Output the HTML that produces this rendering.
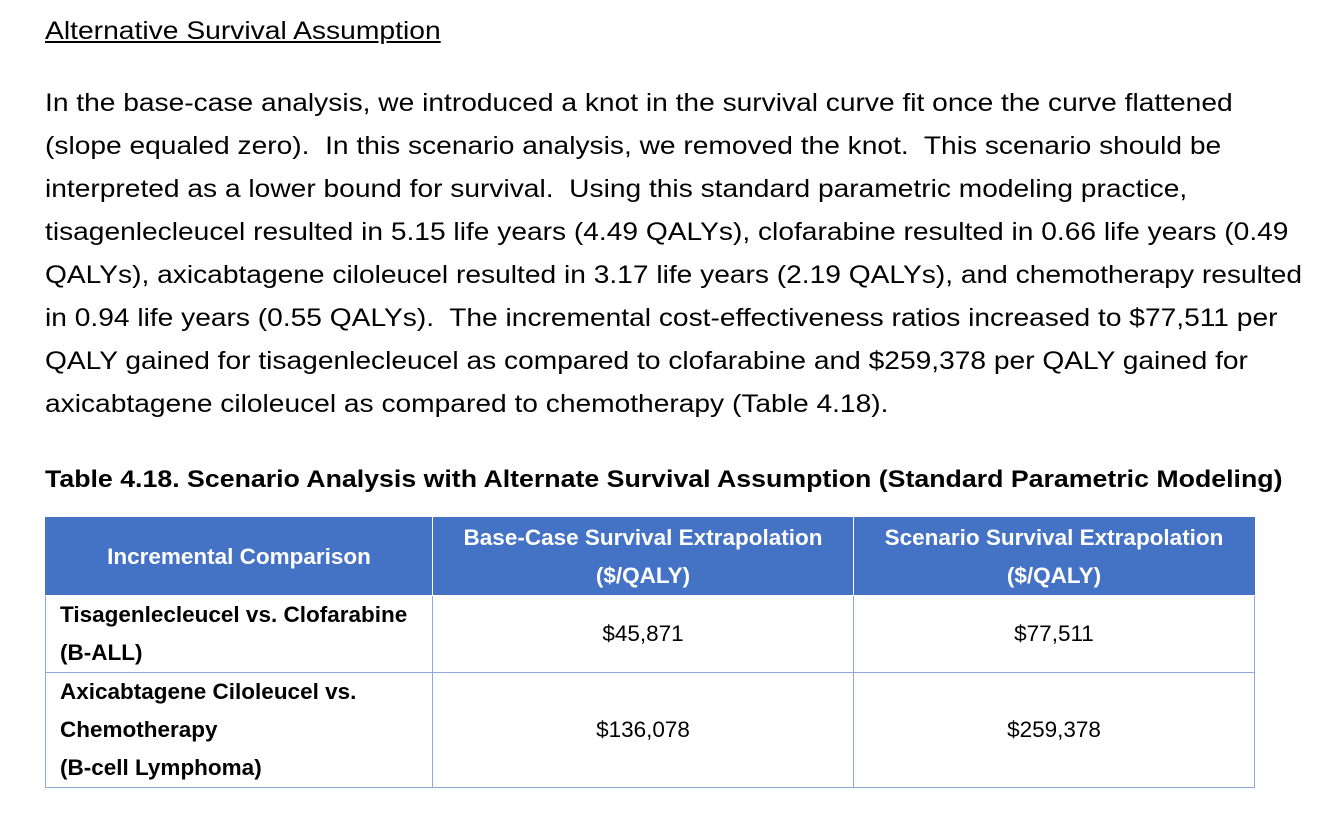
<!DOCTYPE html>
<html><head><meta charset="utf-8"><style>
body{margin:0;width:1326px;height:832px;background:#fff;font-family:"Liberation Sans",sans-serif;color:#000;position:relative;overflow:hidden}
.l{position:absolute;left:45px;white-space:nowrap;font-size:25px;line-height:26px;transform:scaleX(1.126);transform-origin:0 50%}
table{position:absolute;left:45px;top:517px;border-collapse:collapse;font-size:22.5px}
td,th{border:1.5px solid #8eaadb;padding:0 14px}
th{background:#4472c4;color:#fff;font-weight:bold;border-color:#fff;border-top-color:#4472c4;line-height:38px}
th:first-child{border-left-color:#4472c4}th:last-child{border-right-color:#4472c4}
td{line-height:38px}
td.c{text-align:center}
td.b{font-weight:bold}
</style></head><body>
<div class="l" style="top:18px;text-decoration:underline;transform:scaleX(1.13)">Alternative Survival Assumption</div>
<div class="l" style="top:90px">In the base-case analysis, we introduced a knot in the survival curve fit once the curve flattened</div>
<div class="l" style="top:133px">(slope equaled zero).&nbsp; In this scenario analysis, we removed the knot.&nbsp; This scenario should be</div>
<div class="l" style="top:176px">interpreted as a lower bound for survival.&nbsp; Using this standard parametric modeling practice,</div>
<div class="l" style="top:219px">tisagenlecleucel resulted in 5.15 life years (4.49 QALYs), clofarabine resulted in 0.66 life years (0.49</div>
<div class="l" style="top:262px">QALYs), axicabtagene ciloleucel resulted in 3.17 life years (2.19 QALYs), and chemotherapy resulted</div>
<div class="l" style="top:305px">in 0.94 life years (0.55 QALYs).&nbsp; The incremental cost-effectiveness ratios increased to $77,511 per</div>
<div class="l" style="top:348px">QALY gained for tisagenlecleucel as compared to clofarabine and $259,378 per QALY gained for</div>
<div class="l" style="top:391px">axicabtagene ciloleucel as compared to chemotherapy (Table 4.18).</div>
<div class="l" style="top:467px;font-weight:bold;font-size:24px;transform:scaleX(1.113)">Table 4.18. Scenario Analysis with Alternate Survival Assumption (Standard Parametric Modeling)</div>
<table>
<tr style="height:78px"><th style="width:358px">Incremental Comparison</th><th style="width:392px">Base-Case Survival Extrapolation<br>($/QALY)</th><th style="width:372px">Scenario Survival Extrapolation<br>($/QALY)</th></tr>
<tr style="height:75px"><td class="b">Tisagenlecleucel vs. Clofarabine<br>(B-ALL)</td><td class="c">$45,871</td><td class="c">$77,511</td></tr>
<tr style="height:115px"><td class="b">Axicabtagene Ciloleucel vs.<br>Chemotherapy<br>(B-cell Lymphoma)</td><td class="c">$136,078</td><td class="c">$259,378</td></tr>
</table>
</body></html>
